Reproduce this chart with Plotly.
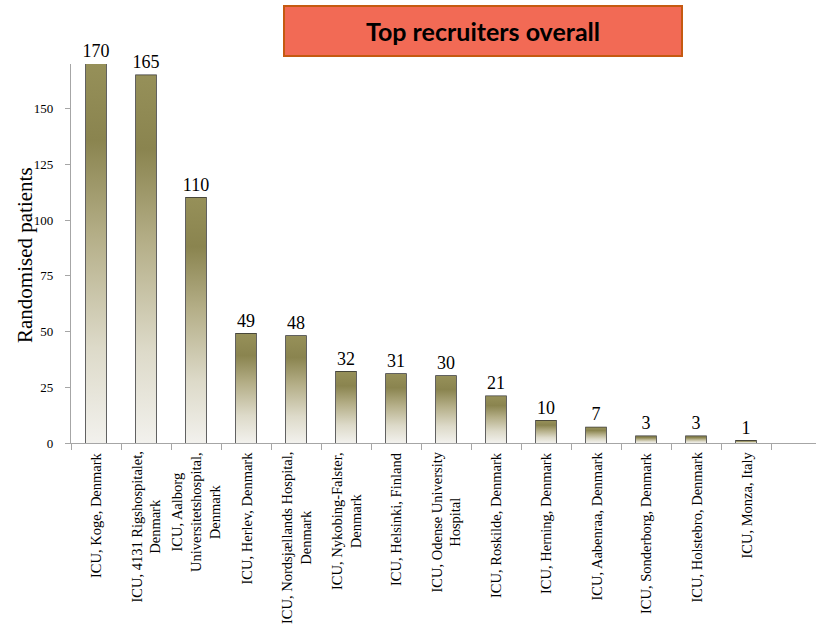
import plotly.graph_objects as go

sites = [
    "ICU, Koge, Denmark",
    "ICU, 4131 Rigshospitalet,<br>Denmark",
    "ICU, Aalborg<br>Universitetshospital,<br>Denmark",
    "ICU, Herlev, Denmark",
    "ICU, Nordsjællands Hospital,<br>Denmark",
    "ICU, Nykobing-Falster,<br>Denmark",
    "ICU, Helsinki, Finland",
    "ICU, Odense University<br>Hospital",
    "ICU, Roskilde, Denmark",
    "ICU, Herning, Denmark",
    "ICU, Aabenraa, Denmark",
    "ICU, Sonderborg, Denmark",
    "ICU, Holstebro, Denmark",
    "ICU, Monza, Italy",
]
patients = [170, 165, 110, 49, 48, 32, 31, 30, 21, 10, 7, 3, 3, 1]
y_ticks = [0, 25, 50, 75, 100, 125, 150]
title_text = "Top recruiters overall"
y_title = "Randomised patients"

SERIF = "Liberation Serif, Times New Roman, serif"
BAR_W = 0.4
grad = [
    [0.0, "#f2f1ed"],
    [0.25, "#dddac9"],
    [0.55, "#b4ae87"],
    [0.8, "#8a844f"],
    [1.0, "#969059"],
]

fig = go.Figure()
idx = list(range(len(patients)))

# gradient fills (one polygon per bar, built from the values)
for i, v in zip(idx, patients):
    xs = [i - BAR_W / 2, i - BAR_W / 2, i + BAR_W / 2, i + BAR_W / 2, i - BAR_W / 2]
    ys = [0, v, v, 0, 0]
    fig.add_trace(go.Scatter(
        x=xs, y=ys, mode="lines", fill="toself",
        line=dict(width=0, color="rgba(0,0,0,0)"),
        fillgradient=dict(type="vertical", colorscale=grad),
        hoverinfo="skip", showlegend=False,
    ))

# bar outlines + value labels
fig.add_trace(go.Bar(
    x=idx, y=patients, width=BAR_W,
    marker=dict(color="rgba(0,0,0,0)", line=dict(color="#2e2e2e", width=1.5)),
    text=[str(v) for v in patients], textposition="outside", constraintext="none",
    textfont=dict(family=SERIF, size=18, color="black"),
    cliponaxis=False, showlegend=False,
))

annotations = []
for i, s in zip(idx, sites):
    annotations.append(dict(
        text=s, x=i, y=0, xref="x", yref="y", xanchor="center", yanchor="top",
        yshift=-7, textangle=-90, align="center", showarrow=False,
        font=dict(family=SERIF, size=14.5, color="black"),
    ))

annotations.append(dict(
    text=y_title, xref="paper", yref="paper",
    x=(25 - 71) / 745, y=(443 - 255) / 379, xanchor="center", yanchor="middle",
    textangle=-90, showarrow=False,
    font=dict(family=SERIF, size=21, color="black"),
))

annotations.append(dict(
    text="<b>" + title_text + "</b>", xref="paper", yref="paper",
    x=(483 - 71) / 745, y=(443 - 31) / 379, xanchor="center", yanchor="middle",
    showarrow=False, width=396, height=48, align="center", valign="middle",
    bgcolor="#f26a55", bordercolor="#c55a11", borderwidth=2, borderpad=0,
    font=dict(family="Lato, Open Sans, sans-serif", size=25, color="black"),
))

fig.update_layout(
    width=816, height=635,
    margin=dict(l=71, r=0, t=64, b=192),
    plot_bgcolor="white", paper_bgcolor="white",
    font=dict(family=SERIF, color="black"),
    xaxis=dict(
        range=[-0.5, 14.4], tickvals=idx, showticklabels=False, automargin=False,
        ticks="", showgrid=False, zeroline=False,
        showline=True, linecolor="#a6a6a6", linewidth=1.2,
        minor=dict(tickvals=[i - 0.5 for i in range(len(patients) + 1)],
                   ticks="outside", ticklen=6, tickcolor="#a6a6a6", showgrid=False),
    ),
    yaxis=dict(
        range=[0, 170], tickvals=y_ticks, ticks="outside", ticklen=5, automargin=False,
        tickcolor="#a6a6a6", showgrid=False, zeroline=False,
        showline=True, linecolor="#a6a6a6", linewidth=1.2, ticklabelstandoff=9,
        tickfont=dict(family=SERIF, size=13, color="black"),
    ),
    annotations=annotations,
)

fig.write_html("out.html", config={"displayModeBar": False},
               post_script="document.body.style.margin='0';")
